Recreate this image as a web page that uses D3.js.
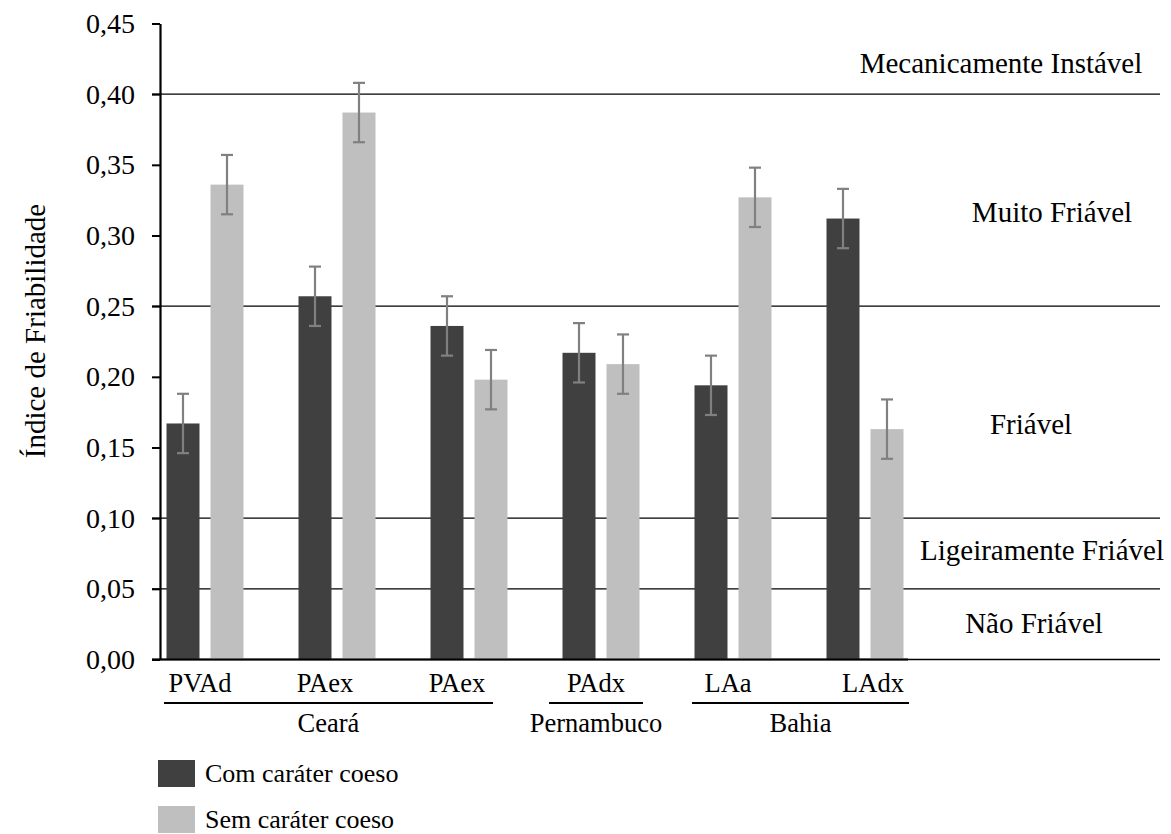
<!DOCTYPE html>
<html>
<head>
<meta charset="utf-8">
<script src="https://cdn.jsdelivr.net/npm/d3@7"></script>
<style>
  body { margin: 0; background: #fff; }
  svg { font-family: "Liberation Serif", "Times New Roman", serif; }
</style>
</head>
<body>
<div id="chart"></div>
<script>
// data
const categories = ["PVAd", "PAex", "PAex", "PAdx", "LAa", "LAdx"];
const series = ["Com caráter coeso", "Sem caráter coeso"];
const comValues = [0.167, 0.257, 0.236, 0.217, 0.194, 0.312];
const semValues = [0.336, 0.387, 0.198, 0.209, 0.327, 0.163];
const comErrors = [0.021, 0.021, 0.021, 0.021, 0.021, 0.021];
const semErrors = [0.021, 0.021, 0.021, 0.021, 0.021, 0.021];
const states = ["Ceará", "Pernambuco", "Bahia"];
const stateFirst = [0, 3, 4];
const stateLast = [2, 3, 5];
const yTicks = [0, 0.05, 0.10, 0.15, 0.20, 0.25, 0.30, 0.35, 0.40, 0.45];
const yTickLabels = ["0,00", "0,05", "0,10", "0,15", "0,20", "0,25", "0,30", "0,35", "0,40", "0,45"];
const limits = [0.05, 0.10, 0.25, 0.40];
const zoneNames = ["Mecanicamente Instável", "Muito Friável", "Friável", "Ligeiramente Friável", "Não Friável"];
const zoneAt = [0.422, 0.317, 0.167, 0.0775, 0.026];

// layout
const WIDTH = 1171, HEIGHT = 834;
const AXIS_X = 160;
const LINE_END = 1160;
const zoneX = [1001, 1052, 1031, 1042, 1034];
const labelShift = [-5, -12, -12, -5, -5, 8];
const COLORS = ["#404040", "#bfbfbf"];

const svg = d3.select("#chart")
  .append("svg")
    .attr("width", WIDTH)
    .attr("height", HEIGHT);

const Y_SCALE = d3.scaleLinear()
  .domain([0, 0.45])
  .range([659.5, 23.5]);

const X_SCALE = d3.scaleBand()
  .domain(d3.range(categories.length))
  .range([139, 931]);

const X_SUB = d3.scaleBand()
  .domain(series)
  .range([0, 77])
  .paddingInner(0.25);

const subOffset = (X_SCALE.bandwidth() - 77) / 2;
const center = (i) => X_SCALE(i) + X_SCALE.bandwidth() / 2;

// limit lines between classes
svg.selectAll(".limit")
  .data([0].concat(limits))
  .enter()
  .append("line")
    .attr("x1", AXIS_X - 8)
    .attr("x2", LINE_END)
    .attr("y1", (d) => Y_SCALE(d))
    .attr("y2", (d) => Y_SCALE(d))
    .attr("stroke", "#000")
    .attr("stroke-width", 1.3);

// bars
const rows = [];
categories.forEach((c, i) => {
  rows.push({i: i, s: series[0], v: comValues[i], e: comErrors[i]});
  rows.push({i: i, s: series[1], v: semValues[i], e: semErrors[i]});
});

svg.selectAll(".bar")
  .data(rows)
  .enter()
  .append("rect")
    .attr("x", (d) => X_SCALE(d.i) + subOffset + X_SUB(d.s))
    .attr("y", (d) => Y_SCALE(d.v))
    .attr("width", X_SUB.bandwidth())
    .attr("height", (d) => Y_SCALE(0) - Y_SCALE(d.v))
    .attr("fill", (d) => COLORS[series.indexOf(d.s)]);

// error bars
const errG = svg.selectAll(".err")
  .data(rows)
  .enter()
  .append("g")
    .attr("stroke", "#808080")
    .attr("stroke-width", 2.2);

const barMid = (d) => X_SCALE(d.i) + subOffset + X_SUB(d.s) + X_SUB.bandwidth() / 2;

errG.append("line")
  .attr("x1", barMid).attr("x2", barMid)
  .attr("y1", (d) => Y_SCALE(d.v + d.e))
  .attr("y2", (d) => Y_SCALE(d.v - d.e));
errG.append("line")
  .attr("x1", (d) => barMid(d) - 6).attr("x2", (d) => barMid(d) + 6)
  .attr("y1", (d) => Y_SCALE(d.v + d.e))
  .attr("y2", (d) => Y_SCALE(d.v + d.e));
errG.append("line")
  .attr("x1", (d) => barMid(d) - 6).attr("x2", (d) => barMid(d) + 6)
  .attr("y1", (d) => Y_SCALE(d.v - d.e))
  .attr("y2", (d) => Y_SCALE(d.v - d.e));

// x axis line under the bars
svg.append("line")
  .attr("x1", AXIS_X - 8)
  .attr("x2", 908)
  .attr("y1", Y_SCALE(0))
  .attr("y2", Y_SCALE(0))
  .attr("stroke", "#000")
  .attr("stroke-width", 2.2);

// y axis
const yAxis = svg.append("g")
  .attr("transform", "translate(" + AXIS_X + ",0)")
  .call(d3.axisLeft(Y_SCALE)
    .tickValues(yTicks)
    .tickSize(8)
    .tickSizeOuter(0)
    .tickPadding(17)
    .tickFormat((d, i) => yTickLabels[i]));
yAxis.select(".domain").attr("stroke-width", 2.2);
yAxis.selectAll(".tick line").attr("stroke-width", 2);
yAxis.selectAll("text")
  .attr("font-family", "Liberation Serif, Times New Roman, serif")
  .attr("font-size", "28px")
  .attr("fill", "#000");

svg.append("text")
  .attr("transform", "translate(45,331) rotate(-90)")
  .attr("text-anchor", "middle")
  .attr("font-size", "29px")
  .text("Índice de Friabilidade");

// category labels
const labelX = (i) => center(i) + labelShift[i];
svg.selectAll(".cat")
  .data(categories)
  .enter()
  .append("text")
    .attr("x", (d, i) => labelX(i))
    .attr("y", 692)
    .attr("text-anchor", "middle")
    .attr("font-size", "26.5px")
    .text((d) => d);

// state groups
states.forEach((s, k) => {
  const half = stateFirst[k] === stateLast[k] ? 47 : 36;
  const x1 = labelX(stateFirst[k]) - half;
  const x2 = labelX(stateLast[k]) + half;
  svg.append("line")
    .attr("x1", x1).attr("x2", x2)
    .attr("y1", 703).attr("y2", 703)
    .attr("stroke", "#000")
    .attr("stroke-width", 2);
  svg.append("text")
    .attr("x", (x1 + x2) / 2)
    .attr("y", 732)
    .attr("text-anchor", "middle")
    .attr("font-size", "26.5px")
    .text(s);
});

// class names
svg.selectAll(".zone")
  .data(zoneNames)
  .enter()
  .append("text")
    .attr("x", (d, i) => zoneX[i])
    .attr("y", (d, i) => Y_SCALE(zoneAt[i]))
    .attr("dy", "0.35em")
    .attr("text-anchor", "middle")
    .attr("font-size", "29px")
    .text((d) => d);

// legend
const legend = svg.selectAll(".legend")
  .data(series)
  .enter()
  .append("g")
    .attr("transform", (d, i) => "translate(158," + (760 + i * 46) + ")");
legend.append("rect")
  .attr("width", 37)
  .attr("height", 27)
  .attr("fill", (d, i) => COLORS[i]);
legend.append("text")
  .attr("x", 47)
  .attr("y", 22)
  .attr("font-size", "26px")
  .text((d) => d);
</script>
</body>
</html>
